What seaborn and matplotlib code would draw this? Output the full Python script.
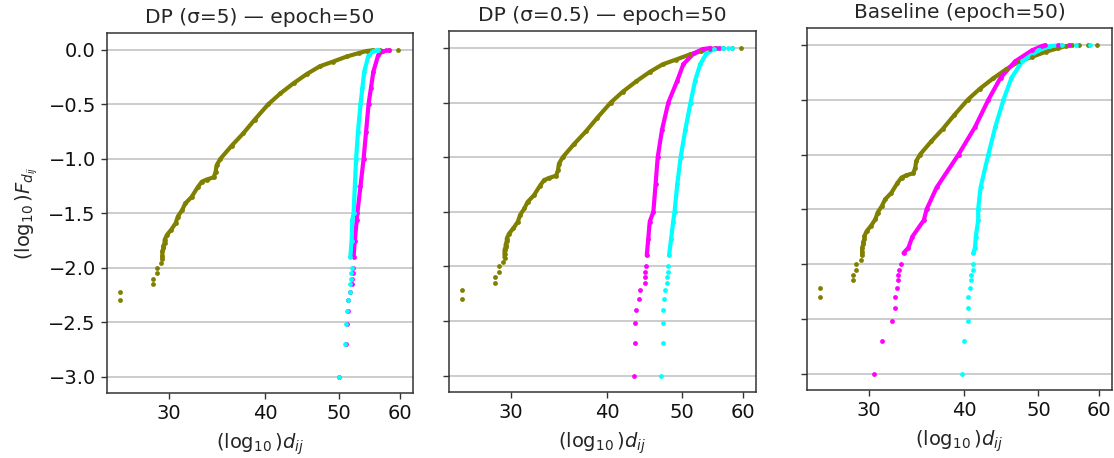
import numpy as np
import pandas as pd
import seaborn as sns
import matplotlib
matplotlib.use("Agg")
import matplotlib.pyplot as plt
from matplotlib.ticker import FixedLocator, FixedFormatter, NullLocator

# ---------------- data ----------------
titles = ["DP (σ=5) — epoch=50", "DP (σ=0.5) — epoch=50", "Baseline (epoch=50)"]
x_ticks = [30, 40, 50, 60]
x_tick_labels = ["30", "40", "50", "60"]
y_ticks = [-3.0, -2.5, -2.0, -1.5, -1.0, -0.5, 0.0]

# olive reference curve (same in every panel)
olive_x = [25.9, 25.9, 28.6, 28.6, 28.9, 28.9, 29.3, 29.4, 29.4, 29.4, 29.5, 29.5, 29.6, 29.6,
           29.8, 30.2, 30.6, 30.8, 31.2, 31.5, 32.1, 32.7, 33.1, 33.6, 34.3, 34.5, 34.6, 35.0,
           36.2, 37.5, 38.8, 40.4, 41.9, 43.6, 45.4, 47.2, 49.1, 51.2, 53.0, 54.3, 55.3,
           56.5, 58.0, 59.7]
olive_y = [-2.30, -2.22, -2.15, -2.10, -2.05, -2.00, -1.96, -1.92, -1.89, -1.85, -1.82, -1.80, -1.77, -1.745,
           -1.70, -1.65, -1.59, -1.53, -1.47, -1.41, -1.35, -1.26, -1.21, -1.19, -1.17, -1.12, -1.06, -1.00,
           -0.88, -0.765, -0.64, -0.50, -0.40, -0.306, -0.22, -0.15, -0.107, -0.06, -0.03, -0.01, -0.004,
           -0.0012, -0.0006, 0.0]

low_y = [-3.0, -2.70, -2.52, -2.40, -2.30, -2.22, -2.15, -2.10, -2.05, -2.00]

# panel 1 (sigma = 5)
p1_cyan_x = [49.9, 50.9, 51.1, 51.2, 51.4, 51.6, 51.7, 51.8, 51.8, 51.9,
             51.7, 51.9, 52.0, 52.2, 52.4, 52.6, 52.9, 53.3, 53.6, 53.9, 54.6, 55.4, 55.8, 56.2]
p1_cyan_y = low_y + [-1.9, -1.75, -1.56, -1.5, -1.25, -1.0, -0.75, -0.5, -0.35, -0.2, -0.05, -0.01, -0.0012, 0.0]
p1_mag_x = [49.9, 51.0, 51.2, 51.3, 51.4, 51.7, 51.9, 52.0, 52.1, 52.1,
            52.2, 52.4, 52.7, 52.8, 53.3, 53.8, 54.2, 54.6, 55.0, 55.4, 56.2, 57.0, 57.5, 58.0]
p1_mag_y = p1_cyan_y

# panel 2 (sigma = 0.5)
p2_mag_x = [43.3, 43.5, 43.5, 43.6, 44.0, 44.1, 44.7, 44.7, 44.8, 44.9,
            45.0, 45.2, 45.4, 45.9, 46.2, 46.5, 47.1, 48.0, 49.3, 50.2, 51.8, 53.2, 54.4, 55.2, 55.9]
p2_mag_y = low_y + [-1.9, -1.75, -1.59, -1.5, -1.25, -1.0, -0.75, -0.5, -0.3, -0.15, -0.05, -0.01, -0.002, -0.0008, 0.0]
p2_cyan_x = [47.0, 47.2, 47.2, 47.2, 47.4, 47.5, 47.8, 47.8, 47.9, 48.0,
             48.1, 48.4, 48.7, 48.9, 49.3, 49.8, 50.5, 51.3, 52.0, 52.8, 53.8, 55.0, 56.6, 57.3, 58.0]
p2_cyan_y = p2_mag_y

# panel 3 (baseline)
p3_mag_x = [30.5, 31.2, 32.2, 32.5, 32.5, 32.7, 32.8, 32.8, 32.9, 33.0,
            33.3, 33.8, 34.2, 35.4, 35.7, 36.8, 39.3, 41.3, 43.0, 44.6, 46.6, 49.0, 50.5, 51.0, 53.0, 54.8]
p3_mag_y = low_y + [-1.9, -1.85, -1.75, -1.6, -1.5, -1.3, -1.0, -0.75, -0.5, -0.3, -0.15, -0.05, -0.01, -0.002,
                    -0.0008, 0.0]
p3_cyan_x = [39.7, 40.0, 40.4, 40.4, 40.5, 40.7, 40.8, 40.8, 41.0, 41.0,
             41.1, 41.3, 41.4, 41.7, 41.7, 42.0, 43.0, 43.9, 45.0, 46.1, 47.6, 50.0, 51.8, 53.6, 56.0, 58.4]
p3_cyan_y = p3_mag_y

panels = [
    [(p1_mag_x, p1_mag_y, "#ff00ff"), (p1_cyan_x, p1_cyan_y, "#00ffff")],
    [(p2_mag_x, p2_mag_y, "#ff00ff"), (p2_cyan_x, p2_cyan_y, "#00ffff")],
    [(p3_mag_x, p3_mag_y, "#ff00ff"), (p3_cyan_x, p3_cyan_y, "#00ffff")],
]
olive_color = "#808000"

# ---------------- figure ----------------
sns.set_style("white")
plt.rcParams["font.family"] = ["DejaVu Sans"]
plt.rcParams["mathtext.fontset"] = "dejavusans"

W, H = 1114, 458
fig = plt.figure(figsize=(W / 100, H / 100), dpi=100)
boxes = [(107, 393, 306, 360), (449, 392, 307, 361), (807, 390, 305, 362)]
axes = []
for (l, b, w, h) in boxes:
    axes.append(fig.add_axes([l / W, (H - b) / H, w / W, h / H]))


def draw_series(ax, xs, ys, color):
    df = pd.DataFrame({"x": xs, "y": ys})
    dense = df[(df["y"] >= -1.95) & (df["y"] <= -0.0015)]
    sns.lineplot(data=dense, x="x", y="y", ax=ax, color=color, lw=3.0, sort=False,
                 estimator=None, legend=False)
    sns.scatterplot(data=df, x="x", y="y", ax=ax, color=color, s=12, linewidth=0,
                    legend=False, zorder=3)


for i, ax in enumerate(axes):
    ax.set_xscale("log")
    draw_series(ax, olive_x, olive_y, olive_color)
    for xs, ys, c in panels[i]:
        draw_series(ax, xs, ys, c)
    ax.set_xlim(24.9, 62.4)
    ax.set_ylim(-3.15, 0.155)
    ax.xaxis.set_major_locator(FixedLocator(x_ticks))
    ax.xaxis.set_major_formatter(FixedFormatter(x_tick_labels))
    ax.xaxis.set_minor_locator(NullLocator())
    ax.set_yticks(y_ticks)
    ax.grid(axis="y", color="#c4c4c4", lw=1.2)
    ax.grid(axis="x", visible=False)
    ax.set_axisbelow(True)
    for s in ax.spines.values():
        s.set_color("#333333")
        s.set_linewidth(1.1)
    ax.tick_params(axis="both", which="major", direction="out", length=4.5, width=1,
                   color="#333333", labelsize=14, labelcolor="#111111", left=True, bottom=True)
    ax.set_title(titles[i], fontsize=14.5, color="#262626", pad=7)
    ax.set_xlabel(r"$(\log_{10})d_{ij}$", fontsize=14, color="#262626", labelpad=6)
    if i == 0:
        ax.set_ylabel(r"$(\log_{10})F_{d_{ij}}$", fontsize=14, color="#262626", labelpad=6)
        ax.set_yticklabels([f"{v:.1f}".replace("-", "\u2212") for v in y_ticks])
    else:
        ax.set_ylabel("")
        ax.set_yticklabels([])

fig.savefig("out.png", dpi=100)
